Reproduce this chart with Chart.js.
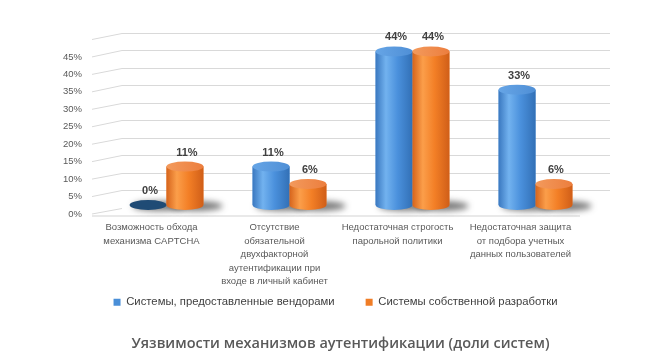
<!DOCTYPE html>
<html><head><meta charset="utf-8">
<script src="https://cdn.jsdelivr.net/npm/chart.js@4.4.0/dist/chart.umd.min.js"></script>
<style>html,body{margin:0;padding:0;background:#fff;overflow:hidden}</style>
</head><body>
<canvas id="c" width="659" height="359" style="width:659px;height:359px;display:block"></canvas>
<script>
const categories = [
  ['Возможность обхода', 'механизма CAPTCHA'],
  ['Отсутствие', 'обязательной', 'двухфакторной', 'аутентификации при', 'входе в личный кабинет'],
  ['Недостаточная строгость', 'парольной политики'],
  ['Недостаточная защита', 'от подбора учетных', 'данных пользователей']
];
const vendorValues = [0, 11, 44, 33];
const ownValues = [11, 6, 44, 6];
const seriesNames = ['Системы, предоставленные вендорами', 'Системы собственной разработки'];
const yMin = 0, yMax = 50, yStep = 5;
const chartTitle = 'Уязвимости механизмов аутентификации (доли систем)';

const palettes = [
  {base:'#4a8fd8', stops:['#3a78c0','#72b2ef','#4a90dc','#3270b6'], top:['#66a5e6','#4f8fd6'], zero:'#1f4b75'},
  {base:'#f07d26', stops:['#d6641c','#fb9e4a','#f37f26','#d05e18'], top:['#f39a5c','#ec7e3e'], zero:'#a04a10'}
];

const RY = 5;

const wallPlugin = {
  id:'walls',
  beforeDatasetsDraw(chart){
    const ctx = chart.ctx, y = chart.scales.y;
    ctx.save();
    ctx.strokeStyle = '#d9d9d9'; ctx.lineWidth = 1;
    for (let v = yMin; v <= yMax; v += yStep){
      const p = y.getPixelForValue(v);
      const wy = Math.round(p + 2.5) + 0.5;
      const ly = p + 9;
      ctx.beginPath();
      ctx.moveTo(92, ly); ctx.lineTo(122, wy);
      if (v > 0) ctx.lineTo(610, wy);
      ctx.stroke();
    }
    const f = y.getPixelForValue(0) + 11;
    ctx.strokeStyle = '#e2e2e2'; ctx.lineWidth = 1.5;
    ctx.beginPath(); ctx.moveTo(92, f); ctx.lineTo(580, f); ctx.stroke();
    chart.data.datasets.forEach((ds, di) => {
      chart.getDatasetMeta(di).data.forEach(el => {
        const w = el.width;
        ctx.save();
        ctx.filter = 'blur(3px)';
        ctx.fillStyle = 'rgba(30,30,30,0.6)';
        ctx.beginPath();
        ctx.ellipse(el.x + w*0.3, el.base + 1, w*0.72, 5, 0, 0, Math.PI*2);
        ctx.fill();
        ctx.restore();
      });
    });
    ctx.restore();
  }
};

const cylinderPlugin = {
  id:'cyl',
  afterDatasetsDraw(chart){
    const ctx = chart.ctx;
    chart.data.datasets.forEach((ds, di) => {
      const pal = palettes[di];
      chart.getDatasetMeta(di).data.forEach((el, i) => {
        const w = el.width, x = el.x, top = el.y, base = el.base;
        const l = x - w/2, r = x + w/2;
        ctx.save();
        if (base - top > 0.5){
          const g = ctx.createLinearGradient(l, 0, r, 0);
          g.addColorStop(0, pal.stops[0]); g.addColorStop(0.28, pal.stops[1]);
          g.addColorStop(0.6, pal.stops[2]); g.addColorStop(1, pal.stops[3]);
          ctx.fillStyle = g;
          ctx.beginPath();
          ctx.moveTo(l, top); ctx.lineTo(l, base);
          ctx.ellipse(x, base, w/2, RY, 0, Math.PI, 0, true);
          ctx.lineTo(r, top); ctx.closePath(); ctx.fill();
          const gt = ctx.createLinearGradient(l, 0, r, 0);
          gt.addColorStop(0, pal.top[0]); gt.addColorStop(1, pal.top[1]);
          ctx.fillStyle = gt;
        } else {
          ctx.fillStyle = pal.zero;
        }
        ctx.beginPath();
        ctx.ellipse(x, top, w/2, RY, 0, 0, Math.PI*2);
        ctx.fill();
        const v = ds.data[i];
        ctx.fillStyle = '#404040';
        ctx.font = 'bold 11px "Liberation Sans", Arial, sans-serif';
        ctx.textAlign = 'center'; ctx.textBaseline = 'middle';
        ctx.fillText(v + '%', x + 2, top - RY - 9);
        ctx.restore();
      });
    });
  }
};

const boxFix = {
  id:'boxFix',
  beforeInit(chart){
    const orig = chart.legend.fit;
    chart.legend.fit = function(){ orig.bind(chart.legend)(); this.height = 44.6; };
  },
  afterLayout(chart){
    const lg = chart.legend, tt = chart.titleBlock;
    lg.top -= 25.5; lg.bottom -= 25.5; lg.left += 31; lg.right += 31;
    tt.left += 36; tt.right += 36;
  }
};

new Chart(document.getElementById('c'), {
  type:'bar',
  data:{
    labels: categories,
    datasets:[
      {label: seriesNames[0], data: vendorValues, backgroundColor: palettes[0].base},
      {label: seriesNames[1], data: ownValues, backgroundColor: palettes[1].base}
    ]
  },
  options:{
    responsive:false, animation:false, devicePixelRatio:1, events:[],
    layout:{padding:{left:12, right:62, top:30.5, bottom:0}},
    datasets:{bar:{categoryPercentage:0.6, barPercentage:1.0}},
    scales:{
      x:{
        grid:{display:false}, border:{display:false},
        ticks:{padding:8, labelOffset:-15, color:'#595959', maxRotation:0, autoSkip:false,
          font:{family:'"Liberation Sans", Arial, sans-serif', size:9.5, lineHeight:1.42}},
        afterFit(s){ s.height = 86; }
      },
      y:{
        min:yMin, max:yMax,
        grid:{display:false}, border:{display:false},
        ticks:{stepSize:yStep, padding:15, labelOffset:9, color:'#595959',
          font:{family:'"Liberation Sans", Arial, sans-serif', size:9.5},
          callback:(v)=> v === yMax ? '' : v + '%'},
        afterFit(s){ s.width = 93; }
      }
    },
    plugins:{
      tooltip:{enabled:false},
      legend:{position:'bottom',
        labels:{boxWidth:7, boxHeight:7, padding:31, color:'#404040',
          font:{family:'"Liberation Sans", Arial, sans-serif', size:11.3}}},
      title:{display:true, position:'bottom', text:chartTitle, color:'#595959',
        padding:{top:0, bottom:6},
        font:{family:'"Open Sans", sans-serif', size:14.5, weight:'600', lineHeight:1.2}}
    }
  },
  plugins:[boxFix, wallPlugin, cylinderPlugin]
});
</script>
</body></html>
